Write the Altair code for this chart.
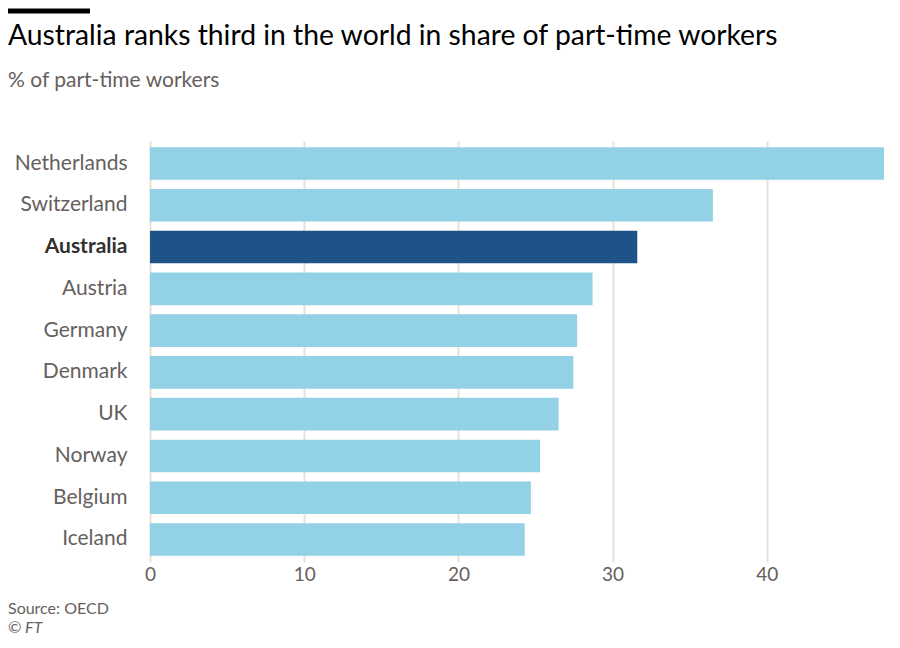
import altair as alt
import pandas as pd

countries = ["Netherlands", "Switzerland", "Australia", "Austria", "Germany",
             "Denmark", "UK", "Norway", "Belgium", "Iceland"]
values = [48.6, 36.5, 31.6, 28.7, 27.7, 27.45, 26.5, 25.3, 24.7, 24.3]
highlight = "Australia"
x_ticks = [0, 10, 20, 30, 40]

title_text = "Australia ranks third in the world in share of part-time workers"
subtitle_text = "% of part-time workers"
source_text = "Source: OECD"
credit_text = "© FT"

FONT = "Lato"
GRAY = "#66605c"
DARK = "#33302e"

df = pd.DataFrame({"country": countries, "value": values,
                   "hl": [c == highlight for c in countries]})

bars = alt.Chart(df).mark_bar(clip=True).encode(
    y=alt.Y("country:N", sort=countries,
            scale=alt.Scale(paddingInner=0.22, paddingOuter=0.15),
            axis=alt.Axis(title=None, domain=False, ticks=False, labelPadding=23,
                          labelFontSize=21, labelFont=FONT,
                          labelColor={"condition": {"test": f"datum.value === '{highlight}'", "value": DARK}, "value": GRAY},
                          labelFontWeight={"condition": {"test": f"datum.value === '{highlight}'", "value": "bold"}, "value": "normal"})),
    x=alt.X("value:Q", scale=alt.Scale(domain=[0, 47.6], nice=False),
            axis=alt.Axis(values=x_ticks, title=None, domain=False, ticks=False, grid=True,
                          gridColor="#e9e0d6", gridWidth=2, labelFontSize=19, labelFont=FONT,
                          labelColor=GRAY, labelPadding=3, labelFlush=False)),
    color=alt.condition(alt.datum.hl, alt.value("#1f5289"), alt.value("#93d1e6")),
)

def txt(s, x, y, size, color, weight="normal", style="normal"):
    return alt.Chart(pd.DataFrame({"t": [s]})).mark_text(
        align="left", baseline="alphabetic", font=FONT, fontSize=size, color=color,
        fontWeight=weight, fontStyle=style
    ).encode(text="t:N", x=alt.value(x), y=alt.value(y))

bar_rule = alt.Chart(pd.DataFrame({"a": [0]})).mark_rule(color="#000000", strokeWidth=5).encode(
    x=alt.value(-142), x2=alt.value(-60), y=alt.value(-130))

title = txt(title_text, -142, -96, 28.3, "#000000")
subtitle = txt(subtitle_text, -142, -54, 21, GRAY)
source = txt(source_text, -142, 473, 16, GRAY)
credit = txt(credit_text, -142, 492, 16, GRAY, style="italic")

chart = alt.layer(bars, bar_rule, title, subtitle, source, credit).properties(
    width=734, height=421,
    padding={"left": 142, "top": 133, "right": 0, "bottom": 77},
    autosize=alt.AutoSizeParams(type="none"),
).configure_view(stroke=None)

chart.save("out.html", embed_options={"renderer": "svg", "actions": False})
